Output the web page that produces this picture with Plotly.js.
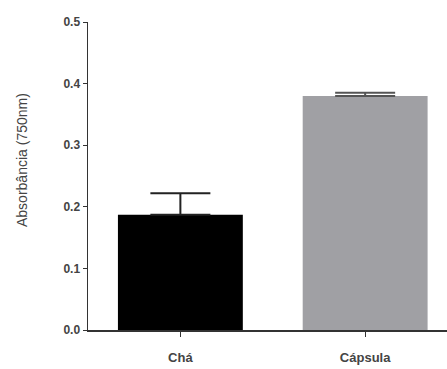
<!DOCTYPE html>
<html><head><meta charset="utf-8">
<script src="https://cdn.plot.ly/plotly-3.0.1.min.js"></script>
<style>html,body{margin:0;padding:0;background:#fff}#c{width:447px;height:369px}</style>
</head><body><div id="c"></div>
<script>
var categories = ["Chá", "Cápsula"];
var values = [0.187, 0.380];
var errors = [0.035, 0.005];
var yTickVals = [0, 0.1, 0.2, 0.3, 0.4, 0.5];
var yTickText = ["0.0", "0.1", "0.2", "0.3", "0.4", "0.5"];
var yTitle = "Absorbância (750nm)";
var colors = ["#000000", "#a0a0a4"];
var errColors = ["#222222", "#555555"];
var FONT = "Liberation Sans, Arial, sans-serif";

var traces = categories.map(function(c, i){
  return {
    type: "bar", x: [i], y: [values[i]], width: 0.676,
    marker: {color: colors[i], line: {width: 0}},
    error_y: {type: "data", array: [errors[i]], arrayminus: [0], symmetric: false,
      visible: true, color: errColors[i], thickness: 2, width: 30},
    showlegend: false, hoverinfo: "none"
  };
});

var layout = {
  width: 447, height: 369,
  margin: {l: 88, r: 0, t: 22, b: 39},
  paper_bgcolor: "#fff", plot_bgcolor: "#fff",
  font: {family: FONT, size: 12, color: "#333"},
  xaxis: {
    range: [-0.5, 1.443], tickvals: [0, 1], ticktext: categories,
    showgrid: false, zeroline: false, showline: true, linecolor: "#333", linewidth: 1.5,
    ticks: "outside", ticklen: 5, tickcolor: "#333", tickwidth: 1,
    ticklabelstandoff: 10,
    tickfont: {size: 13, color: "#444", family: FONT, weight: "bold"}
  },
  yaxis: {
    range: [0, 0.5], tickvals: yTickVals, ticktext: yTickText,
    showgrid: false, zeroline: false, showline: true, linecolor: "#333", linewidth: 1.5,
    ticks: "outside", ticklen: 4, tickcolor: "#333", tickwidth: 1,
    tickfont: {size: 12, color: "#444", family: FONT, weight: "bold"}
  },
  annotations: [{
    text: yTitle, textangle: -90, showarrow: false,
    xref: "paper", yref: "paper", x: (22 - 88) / 359, y: (330 - 160) / 308,
    xanchor: "center", yanchor: "middle",
    font: {size: 14, color: "#444", family: FONT}
  }]
};
Plotly.newPlot("c", traces, layout, {staticPlot: true, displayModeBar: false});
</script></body></html>
